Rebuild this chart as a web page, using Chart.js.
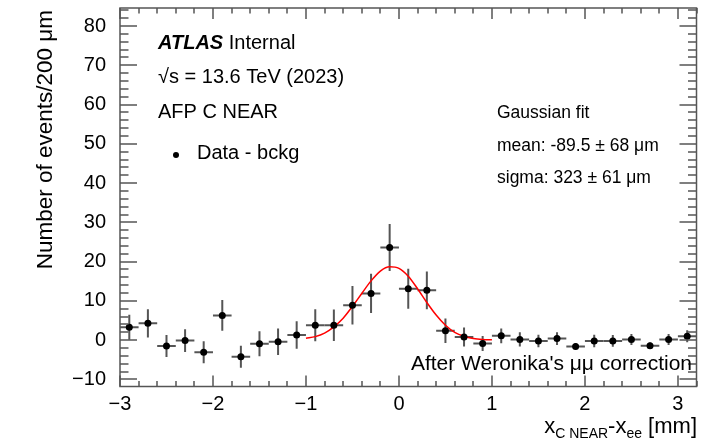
<!DOCTYPE html>
<html>
<head>
<meta charset="utf-8">
<script src="https://cdn.jsdelivr.net/npm/chart.js@4.4.1/dist/chart.umd.min.js"></script>
<style>
  html, body { margin: 0; padding: 0; background: #fff; }
</style>
</head>
<body>
<canvas id="afpChart" width="723" height="440"></canvas>
<script>
// 200 um bins, centres in mm
const binCentres = [-2.9, -2.7, -2.5, -2.3, -2.1, -1.9, -1.7, -1.5, -1.3, -1.1,
                    -0.9, -0.7, -0.5, -0.3, -0.1, 0.1, 0.3, 0.5, 0.7, 0.9,
                    1.1, 1.3, 1.5, 1.7, 1.9, 2.1, 2.3, 2.5, 2.7, 2.9, 3.1];
const counts = [3.3, 4.3, -1.5, -0.1, -3.1, 6.3, -4.2, -0.9, -0.4, 1.3,
                3.8, 3.8, 8.9, 11.9, 23.6, 13.1, 12.7, 2.4, 0.8, -0.85,
                1.1, 0.2, -0.2, 0.4, -1.6, -0.2, -0.2, 0.2, -1.4, 0.2, 1.0];
const countErrors = [3.2, 3.6, 2.8, 2.9, 2.8, 3.9, 2.8, 3.2, 3.4, 3.5,
                     4.1, 4.0, 4.9, 5.0, 6.0, 5.1, 4.8, 3.1, 2.4, 1.9,
                     1.9, 1.8, 1.6, 1.6, 0.8, 1.6, 1.5, 1.4, 0.8, 1.4, 1.5];
const binHalfWidth = 0.1;

// gaussian fit
const fitX = [-1.0, -0.9, -0.8, -0.7, -0.6, -0.5, -0.4, -0.3, -0.2, -0.1, 0.0,
              0.1, 0.2, 0.3, 0.4, 0.5, 0.6, 0.7, 0.8, 0.9, 1.0];
const fitY = [0.5, 0.9, 1.8, 3.4, 5.6, 8.6, 11.9, 15.1, 17.6, 18.7, 18.3,
              16.3, 13.1, 9.6, 6.4, 3.8, 2.0, 1.0, 0.45, 0.2, 0.1];

const xTicks = [-3, -2, -1, 0, 1, 2, 3];
const yTicks = [-10, 0, 10, 20, 30, 40, 50, 60, 70, 80];

const FONT = '"Liberation Sans", Arial, Helvetica, sans-serif';

function minus(v) {
  return v < 0 ? '\u2212' + Math.abs(v) : String(v);
}

const rootStyle = {
  id: 'rootStyle',
  beforeDatasetsDraw(chart) {
    const ctx = chart.ctx, xs = chart.scales.x, ys = chart.scales.y;
    ctx.save();
    ctx.strokeStyle = '#555';
    ctx.lineWidth = 2;
    binCentres.forEach((c, i) => {
      const px = xs.getPixelForValue(c);
      const py = ys.getPixelForValue(counts[i]);
      ctx.beginPath();
      ctx.moveTo(xs.getPixelForValue(c - binHalfWidth), py);
      ctx.lineTo(xs.getPixelForValue(c + binHalfWidth), py);
      ctx.moveTo(px, ys.getPixelForValue(counts[i] - countErrors[i]));
      ctx.lineTo(px, ys.getPixelForValue(counts[i] + countErrors[i]));
      ctx.stroke();
    });
    ctx.restore();
  },
  afterDraw(chart) {
    const ctx = chart.ctx, a = chart.chartArea;
    const xs = chart.scales.x, ys = chart.scales.y;
    ctx.save();

    // ticks on all four sides, pointing inwards
    ctx.fillStyle = '#555';
    for (let i = -15; i <= 16; i++) {
      const px = Math.round(xs.getPixelForValue(i / 5));
      const len = i % 5 === 0 ? 11 : 5.5;
      ctx.fillRect(px - 0.75, a.bottom - len, 1.5, len);
      ctx.fillRect(px - 0.75, a.top, 1.5, len);
    }
    for (let v = -10; v <= 84; v += 2) {
      const py = Math.round(ys.getPixelForValue(v));
      const len = v % 10 === 0 ? 17 : 8.5;
      ctx.fillRect(a.left, py - 0.75, len, 1.5);
      ctx.fillRect(a.right - len, py - 0.75, len, 1.5);
    }

    // frame
    ctx.strokeStyle = '#555';
    ctx.lineWidth = 1.5;
    ctx.strokeRect(a.left, a.top, a.right - a.left, a.bottom - a.top);

    ctx.fillStyle = '#000';
    ctx.textBaseline = 'middle';
    ctx.textAlign = 'left';

    // ATLAS label block
    ctx.font = 'italic bold 20px ' + FONT;
    ctx.fillText('ATLAS', 158, 43);
    const w = ctx.measureText('ATLAS ').width;
    ctx.font = '20px ' + FONT;
    ctx.fillText('Internal', 158 + w, 43);
    ctx.fillText('\u221As = 13.6 TeV (2023)', 158, 77);
    ctx.fillText('AFP C NEAR', 158, 112);
    ctx.fillText('Data - bckg', 197, 153);
    ctx.beginPath();
    ctx.arc(176, 155, 3, 0, Math.PI * 2);
    ctx.fill();

    ctx.font = '17.5px ' + FONT;
    ctx.fillText('Gaussian fit', 497, 113);
    ctx.fillText('mean: -89.5 \u00B1 68 \u03BCm', 497, 146);
    ctx.fillText('sigma: 323 \u00B1 61 \u03BCm', 497, 178);

    ctx.font = '21px ' + FONT;
    ctx.textAlign = 'right';
    ctx.fillText('After Weronika\'s \u03BC\u03BC correction', 692, 364);

    // y axis title
    ctx.save();
    ctx.translate(46, 10);
    ctx.rotate(-Math.PI / 2);
    ctx.font = '22.5px ' + FONT;
    ctx.textAlign = 'right';
    ctx.fillText('Number of events/200 \u03BCm', 0, 0);
    ctx.restore();

    // x axis title with subscripts
    const parts = [
      { t: 'x', s: 22, dy: 0 },
      { t: 'C NEAR', s: 14, dy: 5 },
      { t: '-x', s: 22, dy: 0 },
      { t: 'ee', s: 14, dy: 5 },
      { t: ' [mm]', s: 22, dy: 0 }
    ];
    ctx.textAlign = 'left';
    ctx.textBaseline = 'alphabetic';
    let total = 0;
    parts.forEach(p => { ctx.font = p.s + 'px ' + FONT; p.w = ctx.measureText(p.t).width; total += p.w; });
    let x0 = 697 - total;
    parts.forEach(p => {
      ctx.font = p.s + 'px ' + FONT;
      ctx.fillText(p.t, x0, 433 + p.dy);
      x0 += p.w;
    });
    ctx.restore();
  }
};

new Chart(document.getElementById('afpChart'), {
  type: 'scatter',
  data: {
    datasets: [
      {
        label: 'Data - bckg',
        data: binCentres.map((c, i) => ({ x: c, y: counts[i] })),
        pointRadius: 3.5,
        pointBackgroundColor: '#000',
        pointBorderColor: '#000',
        pointBorderWidth: 0,
        order: 0
      },
      {
        label: 'Gaussian fit',
        data: fitX.map((x, i) => ({ x: x, y: fitY[i] })),
        showLine: true,
        borderColor: '#ff0000',
        borderWidth: 1.5,
        pointRadius: 0,
        cubicInterpolationMode: 'monotone',
        order: 1
      }
    ]
  },
  options: {
    responsive: false,
    animation: false,
    devicePixelRatio: 1,
    layout: { autoPadding: false, padding: { left: 0, right: 26.5, top: 8, bottom: 0 } },
    plugins: { legend: { display: false }, tooltip: { enabled: false } },
    scales: {
      x: {
        type: 'linear',
        min: -3,
        max: 3.2,
        grid: { display: false },
        border: { display: false },
        afterBuildTicks: s => { s.ticks = xTicks.map(v => ({ value: v })); },
        afterFit: s => { s.height = 53.5; s.paddingLeft = 0; s.paddingRight = 0; },
        ticks: {
          autoSkip: false,
          maxRotation: 0,
          padding: -2,
          color: '#000',
          font: { family: FONT, size: 20 },
          callback: v => minus(v)
        }
      },
      y: {
        type: 'linear',
        min: -11.8,
        max: 84.6,
        grid: { display: false },
        border: { display: false },
        afterBuildTicks: s => { s.ticks = yTicks.map(v => ({ value: v })); },
        afterFit: s => { s.width = 120; s.paddingTop = 0; s.paddingBottom = 0; },
        ticks: {
          autoSkip: false,
          padding: 6,
          color: '#000',
          font: { family: FONT, size: 20 },
          callback: v => minus(v)
        }
      }
    }
  },
  plugins: [rootStyle]
});
</script>
</body>
</html>
